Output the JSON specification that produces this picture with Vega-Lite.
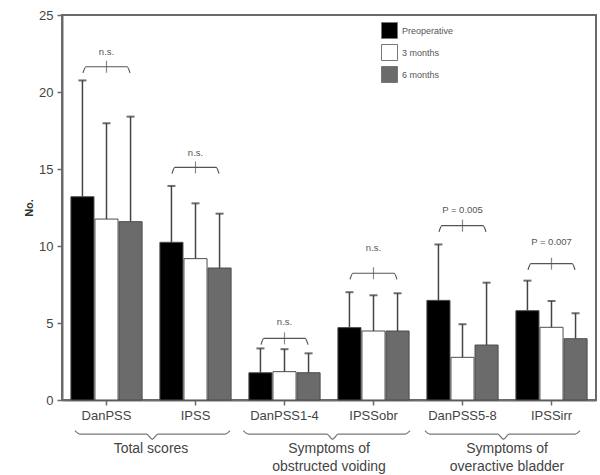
{
  "$schema": "https://vega.github.io/schema/vega-lite/v6.json",
  "width": 534,
  "height": 385,
  "autosize": {"type": "none"},
  "padding": {"left": 62, "top": 15, "right": 4, "bottom": 75},
  "background": "white",
  "config": {
    "font": "Liberation Sans",
    "view": {"stroke": "#6a6a6a", "strokeWidth": 2}
  },
  "datasets": {
    "bars": [
      {"metric": "DanPSS", "status": "Preoperative", "mean": 13.2, "upper": 20.75},
      {"metric": "DanPSS", "status": "3 months", "mean": 11.75, "upper": 17.97},
      {"metric": "DanPSS", "status": "6 months", "mean": 11.58, "upper": 18.4},
      {"metric": "IPSS", "status": "Preoperative", "mean": 10.24, "upper": 13.9},
      {"metric": "IPSS", "status": "3 months", "mean": 9.18, "upper": 12.77},
      {"metric": "IPSS", "status": "6 months", "mean": 8.57, "upper": 12.1},
      {"metric": "DanPSS1-4", "status": "Preoperative", "mean": 1.77, "upper": 3.35},
      {"metric": "DanPSS1-4", "status": "3 months", "mean": 1.84, "upper": 3.3},
      {"metric": "DanPSS1-4", "status": "6 months", "mean": 1.77, "upper": 3.03},
      {"metric": "IPSSobr", "status": "Preoperative", "mean": 4.7, "upper": 7.0},
      {"metric": "IPSSobr", "status": "3 months", "mean": 4.48, "upper": 6.8},
      {"metric": "IPSSobr", "status": "6 months", "mean": 4.48, "upper": 6.93},
      {"metric": "DanPSS5-8", "status": "Preoperative", "mean": 6.47, "upper": 10.1},
      {"metric": "DanPSS5-8", "status": "3 months", "mean": 2.77, "upper": 4.92},
      {"metric": "DanPSS5-8", "status": "6 months", "mean": 3.57, "upper": 7.62},
      {"metric": "IPSSirr", "status": "Preoperative", "mean": 5.8, "upper": 7.75},
      {"metric": "IPSSirr", "status": "3 months", "mean": 4.72, "upper": 6.43},
      {"metric": "IPSSirr", "status": "6 months", "mean": 3.98, "upper": 5.63}
    ],
    "bracketLabels": [
      {"metric": "DanPSS", "yb": 21.64, "yt": 22.58, "label": "n.s."},
      {"metric": "IPSS", "yb": 15.1, "yt": 16.02, "label": "n.s."},
      {"metric": "DanPSS1-4", "yb": 4.0, "yt": 5.08, "label": "n.s."},
      {"metric": "IPSSobr", "yb": 8.23, "yt": 9.9, "label": "n.s."},
      {"metric": "DanPSS5-8", "yb": 11.32, "yt": 12.34, "label": "P = 0.005"},
      {"metric": "IPSSirr", "yb": 8.85, "yt": 10.26, "label": "P = 0.007"}
    ],
    "brackets": [
      {"metric": "DanPSS", "ord": 1, "pos": 0.17, "yv": 21.24},
      {"metric": "DanPSS", "ord": 2, "pos": 0.21, "yv": 21.64},
      {"metric": "DanPSS", "ord": 3, "pos": 0.79, "yv": 21.64},
      {"metric": "DanPSS", "ord": 4, "pos": 0.83, "yv": 21.24},
      {"metric": "IPSS", "ord": 1, "pos": 0.17, "yv": 14.7},
      {"metric": "IPSS", "ord": 2, "pos": 0.21, "yv": 15.1},
      {"metric": "IPSS", "ord": 3, "pos": 0.79, "yv": 15.1},
      {"metric": "IPSS", "ord": 4, "pos": 0.83, "yv": 14.7},
      {"metric": "DanPSS1-4", "ord": 1, "pos": 0.17, "yv": 3.6},
      {"metric": "DanPSS1-4", "ord": 2, "pos": 0.21, "yv": 4.0},
      {"metric": "DanPSS1-4", "ord": 3, "pos": 0.79, "yv": 4.0},
      {"metric": "DanPSS1-4", "ord": 4, "pos": 0.83, "yv": 3.6},
      {"metric": "IPSSobr", "ord": 1, "pos": 0.17, "yv": 7.83},
      {"metric": "IPSSobr", "ord": 2, "pos": 0.21, "yv": 8.23},
      {"metric": "IPSSobr", "ord": 3, "pos": 0.79, "yv": 8.23},
      {"metric": "IPSSobr", "ord": 4, "pos": 0.83, "yv": 7.83},
      {"metric": "DanPSS5-8", "ord": 1, "pos": 0.17, "yv": 10.92},
      {"metric": "DanPSS5-8", "ord": 2, "pos": 0.21, "yv": 11.32},
      {"metric": "DanPSS5-8", "ord": 3, "pos": 0.79, "yv": 11.32},
      {"metric": "DanPSS5-8", "ord": 4, "pos": 0.83, "yv": 10.92},
      {"metric": "IPSSirr", "ord": 1, "pos": 0.17, "yv": 8.45},
      {"metric": "IPSSirr", "ord": 2, "pos": 0.21, "yv": 8.85},
      {"metric": "IPSSirr", "ord": 3, "pos": 0.79, "yv": 8.85},
      {"metric": "IPSSirr", "ord": 4, "pos": 0.83, "yv": 8.45}
    ],
    "braces": [
      {"group": "Total scores", "ord": 1, "pos": 0.073, "yv": -1.99},
      {"group": "Total scores", "ord": 2, "pos": 0.1, "yv": -2.21},
      {"group": "Total scores", "ord": 3, "pos": 0.475, "yv": -2.21},
      {"group": "Total scores", "ord": 4, "pos": 0.507, "yv": -2.55},
      {"group": "Total scores", "ord": 5, "pos": 0.539, "yv": -2.21},
      {"group": "Total scores", "ord": 6, "pos": 0.917, "yv": -2.21},
      {"group": "Total scores", "ord": 7, "pos": 0.944, "yv": -1.99},
      {"group": "Obstructed", "ord": 1, "pos": 0.019, "yv": -1.99},
      {"group": "Obstructed", "ord": 2, "pos": 0.046, "yv": -2.21},
      {"group": "Obstructed", "ord": 3, "pos": 0.488, "yv": -2.21},
      {"group": "Obstructed", "ord": 4, "pos": 0.52, "yv": -2.55},
      {"group": "Obstructed", "ord": 5, "pos": 0.552, "yv": -2.21},
      {"group": "Obstructed", "ord": 6, "pos": 0.928, "yv": -2.21},
      {"group": "Obstructed", "ord": 7, "pos": 0.955, "yv": -1.99},
      {"group": "Overactive", "ord": 1, "pos": 0.039, "yv": -1.99},
      {"group": "Overactive", "ord": 2, "pos": 0.066, "yv": -2.21},
      {"group": "Overactive", "ord": 3, "pos": 0.448, "yv": -2.21},
      {"group": "Overactive", "ord": 4, "pos": 0.48, "yv": -2.55},
      {"group": "Overactive", "ord": 5, "pos": 0.512, "yv": -2.21},
      {"group": "Overactive", "ord": 6, "pos": 0.883, "yv": -2.21},
      {"group": "Overactive", "ord": 7, "pos": 0.91, "yv": -1.99}
    ],
    "groups": [
      {"group": "Total scores", "yt": -2.72, "label": "Total scores"},
      {"group": "Obstructed", "yt": -2.72, "label": "Symptoms of\nobstructed voiding"},
      {"group": "Overactive", "yt": -2.72, "label": "Symptoms of\noveractive bladder"}
    ]
  },
  "layer": [
    {
      "data": {"name": "bars"},
      "mark": {"type": "bar", "stroke": "#4d4d4d", "strokeWidth": 1},
      "encoding": {
        "x": {
          "field": "metric", "type": "nominal",
          "scale": {"domain": ["DanPSS", "IPSS", "DanPSS1-4", "IPSSobr", "DanPSS5-8", "IPSSirr"], "paddingInner": 0.2, "paddingOuter": 0.1},
          "axis": {"title": null, "labelAngle": 0, "labelFontSize": 13, "labelColor": "#444444", "labelPadding": 4, "tickSize": 5, "tickColor": "#6a6a6a", "tickWidth": 1.5, "domainColor": "#6a6a6a", "domainWidth": 2}
        },
        "xOffset": {
          "field": "status", "type": "nominal",
          "scale": {"domain": ["Preoperative", "3 months", "6 months"], "paddingInner": 0.04}
        },
        "y": {
          "field": "mean", "type": "quantitative",
          "scale": {"domain": [0, 25], "nice": false},
          "axis": {"title": "No.", "values": [0, 5, 10, 15, 20, 25], "grid": false, "labelFontSize": 13, "labelColor": "#444444", "labelPadding": 4, "tickSize": 5, "tickColor": "#6a6a6a", "tickWidth": 1.5, "domainColor": "#6a6a6a", "domainWidth": 2, "titleFontSize": 11, "titleFontWeight": "bold", "titleColor": "#333333", "titlePadding": 4}
        },
        "color": {
          "field": "status", "type": "nominal",
          "scale": {"domain": ["Preoperative", "3 months", "6 months"], "range": ["#000000", "#ffffff", "#6b6b6b"]},
          "legend": {"title": null, "orient": "none", "legendX": 319, "legendY": 7, "symbolType": "square", "symbolSize": 256, "symbolStrokeColor": "#777777", "symbolStrokeWidth": 1, "labelFontSize": 9, "labelColor": "#555555", "labelOffset": 4, "rowPadding": 1}
        }
      }
    },
    {
      "data": {"name": "bars"},
      "mark": {"type": "rule", "color": "#444444", "strokeWidth": 1.5},
      "encoding": {
        "x": {"field": "metric", "type": "nominal", "scale": {"domain": ["DanPSS", "IPSS", "DanPSS1-4", "IPSSobr", "DanPSS5-8", "IPSSirr"], "paddingInner": 0.2, "paddingOuter": 0.1}, "axis": null},
        "xOffset": {"field": "status", "type": "nominal", "scale": {"type": "point", "domain": ["Preoperative", "3 months", "6 months"], "padding": 0.48}},
        "y": {"field": "mean", "type": "quantitative", "scale": {"domain": [0, 25], "nice": false}, "title": "No."},
        "y2": {"field": "upper"}
      }
    },
    {
      "data": {"name": "bars"},
      "mark": {"type": "tick", "orient": "horizontal", "color": "#333333", "size": 8, "thickness": 2},
      "encoding": {
        "x": {"field": "metric", "type": "nominal", "scale": {"domain": ["DanPSS", "IPSS", "DanPSS1-4", "IPSSobr", "DanPSS5-8", "IPSSirr"], "paddingInner": 0.2, "paddingOuter": 0.1}, "axis": null},
        "xOffset": {"field": "status", "type": "nominal", "scale": {"type": "point", "domain": ["Preoperative", "3 months", "6 months"], "padding": 0.48}},
        "y": {"field": "upper", "type": "quantitative", "scale": {"domain": [0, 25], "nice": false}, "title": "No."}
      }
    },
    {
      "data": {"name": "brackets"},
      "mark": {"type": "line", "color": "#555555", "strokeWidth": 1.2, "interpolate": "monotone"},
      "encoding": {
        "x": {"field": "metric", "type": "nominal", "scale": {"domain": ["DanPSS", "IPSS", "DanPSS1-4", "IPSSobr", "DanPSS5-8", "IPSSirr"], "paddingInner": 0.2, "paddingOuter": 0.1}, "axis": null},
        "xOffset": {"field": "pos", "type": "quantitative", "scale": {"domain": [0, 1], "nice": false, "zero": false}},
        "y": {"field": "yv", "type": "quantitative", "scale": {"domain": [0, 25], "nice": false}, "title": "No."},
        "detail": {"field": "metric"},
        "order": {"field": "ord", "type": "quantitative"}
      }
    },
    {
      "data": {"name": "bracketLabels"},
      "mark": {"type": "tick", "orient": "vertical", "color": "#555555", "size": 12, "thickness": 1.2},
      "encoding": {
        "x": {"field": "metric", "type": "nominal", "scale": {"domain": ["DanPSS", "IPSS", "DanPSS1-4", "IPSSobr", "DanPSS5-8", "IPSSirr"], "paddingInner": 0.2, "paddingOuter": 0.1}, "axis": null},
        "y": {"field": "yb", "type": "quantitative", "scale": {"domain": [0, 25], "nice": false}, "title": "No."}
      }
    },
    {
      "data": {"name": "bracketLabels"},
      "mark": {"type": "text", "color": "#555555", "fontSize": 9.5, "baseline": "middle", "align": "center"},
      "encoding": {
        "x": {"field": "metric", "type": "nominal", "scale": {"domain": ["DanPSS", "IPSS", "DanPSS1-4", "IPSSobr", "DanPSS5-8", "IPSSirr"], "paddingInner": 0.2, "paddingOuter": 0.1}, "axis": null},
        "y": {"field": "yt", "type": "quantitative", "scale": {"domain": [0, 25], "nice": false}, "title": "No."},
        "text": {"field": "label"}
      }
    },
    {
      "data": {"name": "braces"},
      "mark": {"type": "line", "color": "#777777", "strokeWidth": 1.3, "interpolate": "monotone", "clip": false},
      "encoding": {
        "x": {"field": "group", "type": "nominal", "scale": {"domain": ["Total scores", "Obstructed", "Overactive"], "paddingInner": 0, "paddingOuter": 0}, "axis": null},
        "xOffset": {"field": "pos", "type": "quantitative", "scale": {"domain": [0, 1], "nice": false, "zero": false}},
        "y": {"field": "yv", "type": "quantitative", "scale": {"domain": [0, 25], "nice": false}, "title": "No."},
        "detail": {"field": "group"},
        "order": {"field": "ord", "type": "quantitative"}
      }
    },
    {
      "data": {"name": "groups"},
      "mark": {"type": "text", "color": "#444444", "fontSize": 14, "baseline": "top", "align": "center", "lineBreak": "\n", "lineHeight": 18, "clip": false},
      "encoding": {
        "x": {"field": "group", "type": "nominal", "scale": {"domain": ["Total scores", "Obstructed", "Overactive"], "paddingInner": 0, "paddingOuter": 0}, "axis": null},
        "y": {"field": "yt", "type": "quantitative", "scale": {"domain": [0, 25], "nice": false}, "title": "No."},
        "text": {"field": "label"}
      }
    }
  ],
  "resolve": {"scale": {"x": "independent", "xOffset": "independent"}}
}
